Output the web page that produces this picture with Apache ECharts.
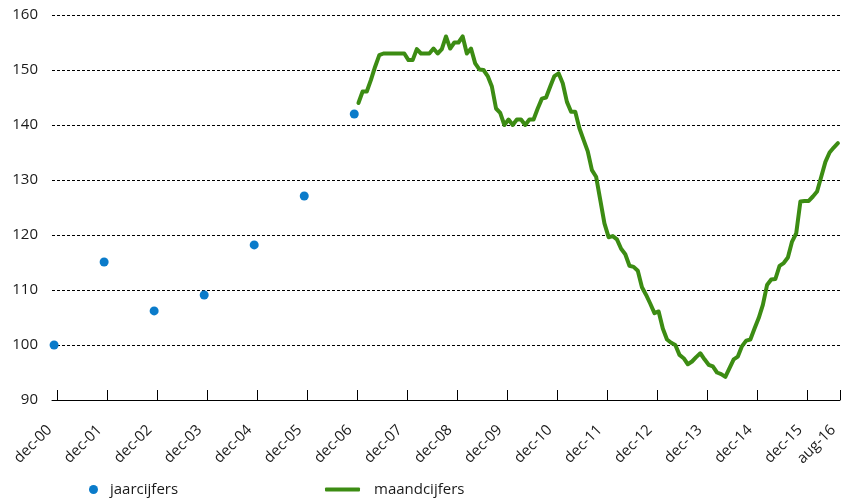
<!DOCTYPE html>
<html>
<head>
<meta charset="utf-8">
<script src="https://cdn.jsdelivr.net/npm/echarts@6/dist/echarts.min.js"></script>
<style>
html,body{margin:0;padding:0;background:#fff;}
#chart{width:842px;height:503px;}
</style>
</head>
<body>
<div id="chart"></div>
<script>
// Month abbreviations (Dutch) used to build the monthly category axis
const monthNames = ['jan','feb','mrt','apr','mei','jun','jul','aug','sep','okt','nov','dec'];
const firstMonth = { year: 2000, month: 11 };  // dec-00
const lastMonth  = { year: 2016, month: 7 };   // aug-16

// Tick labels shown on the x axis
const xTickLabels = ['dec-00','dec-01','dec-02','dec-03','dec-04','dec-05','dec-06','dec-07',
  'dec-08','dec-09','dec-10','dec-11','dec-12','dec-13','dec-14','dec-15','aug-16'];

// Yearly figures (jaarcijfers)
const yearLabels = ['dec-00','dec-01','dec-02','dec-03','dec-04','dec-05','dec-06'];
const yearValues = [100, 115.1, 106.2, 109.1, 118.2, 127.1, 142];

// Monthly figures (maandcijfers), starting jan-07, ending aug-16
const monthStartLabel = 'jan-07';
const monthValues = [
  144.0, 146.1, 146.1, 148.2, 150.6, 152.7, 153.0, 153.0, 153.0, 153.0, 153.0, 153.0, // 2007
  151.8, 151.8, 153.8, 153.0, 153.0, 153.0, 153.9, 153.0, 153.8, 156.1, 153.9, 155.0, // 2008
  155.0, 156.1, 153.0, 153.9, 151.2, 150.1, 150.0, 148.9, 147.0, 143.0, 142.2, 140.0, // 2009
  141.0, 140.0, 141.0, 141.0, 140.0, 141.0, 141.0, 143.0, 144.8, 145.0, 147.0, 148.9, // 2010
  149.4, 147.6, 144.2, 142.4, 142.4, 139.4, 137.3, 135.2, 131.8, 130.6, 126.4, 122.1, // 2011
  119.6, 119.8, 119.2, 117.5, 116.5, 114.4, 114.2, 113.5, 110.5, 109.1, 107.5, 105.8, // 2012
  106.1, 103.0, 101.0, 100.4, 100.0, 98.2, 97.6, 96.5, 97.0, 97.8, 98.5, 97.4,        // 2013
  96.4, 96.1, 95.0, 94.7, 94.2, 95.8, 97.4, 97.9, 99.8, 100.8, 101.0, 103.0,          // 2014
  104.9, 107.3, 110.9, 111.9, 112.0, 114.4, 114.9, 115.9, 118.8, 120.3, 126.1, 126.2, // 2015
  126.2, 127.0, 127.9, 130.6, 133.3, 135.0, 135.9, 136.7                               // 2016
];

// Y axis ticks
const yMin = 90, yMax = 160, yStep = 10;

// Build category labels (one per month)
const categories = [];
{
  let y = firstMonth.year, m = firstMonth.month;
  while (y < lastMonth.year || (y === lastMonth.year && m <= lastMonth.month)) {
    categories.push(monthNames[m] + '-' + String(y % 100).padStart(2, '0'));
    m++; if (m > 11) { m = 0; y++; }
  }
}
const startIdx = categories.indexOf(monthStartLabel);
const lineData = monthValues.map((v, i) => [categories[startIdx + i], v]);
const dotData = yearLabels.map((c, i) => [c, yearValues[i]]);
const nCat = categories.length;

// Positions (in category-index units) for the overlay axis used for ticks and labels
const tickIdx = xTickLabels.map(l => categories.indexOf(l));
const tickBoundaries = tickIdx.slice(0, -1).map(i => i + 0.7).concat([nCat - 0.5]);

const FONT = 'Open Sans';
const TXT = '#1a1a1a';
const chart = echarts.init(document.getElementById('chart'), null, { renderer: 'canvas' });
chart.setOption({
  animation: false,
  backgroundColor: '#fff',
  textStyle: { fontFamily: FONT },
  grid: { left: 52, right: 2, top: 15, bottom: 103, containLabel: false },
  legend: [
    {
      data: [{ name: 'jaarcijfers', icon: 'circle' }],
      left: 89, top: 482, padding: 0,
      itemWidth: 23, itemHeight: 9,
      textStyle: { fontFamily: FONT, fontSize: 15, color: TXT },
      selectedMode: false
    },
    {
      data: [{ name: 'maandcijfers', icon: 'roundRect' }],
      left: 325, top: 482, padding: 0,
      itemWidth: 35, itemHeight: 4,
      itemStyle: { borderWidth: 0 },
      textStyle: { fontFamily: FONT, fontSize: 15, color: TXT, padding: [0, 0, 0, 9] },
      selectedMode: false
    }
  ],
  xAxis: [
    {
      type: 'category',
      data: categories,
      boundaryGap: true,
      axisLine: { show: true, lineStyle: { color: '#000', width: 1 } },
      axisTick: { show: false },
      axisLabel: { show: false },
      splitLine: { show: false }
    },
    {
      type: 'value',
      gridIndex: 0,
      position: 'bottom',
      min: -0.5, max: nCat - 0.5,
      axisLine: { show: false },
      splitLine: { show: false },
      axisTick: {
        show: true, inside: true, length: 10,
        lineStyle: { color: '#000', width: 1 },
        customValues: tickBoundaries
      },
      axisLabel: {
        show: true,
        customValues: tickIdx,
        formatter: function (v) { return categories[Math.round(v)]; },
        rotate: 45,
        margin: 23,
        padding: [0, 6.5, 0, 0],
        hideOverlap: false,
        showMinLabel: true, showMaxLabel: true,
        fontFamily: FONT, fontSize: 15, color: TXT
      }
    }
  ],
  yAxis: {
    type: 'value',
    min: yMin, max: yMax, interval: yStep,
    axisLine: { show: false },
    axisTick: { show: false },
    axisLabel: { margin: 14, fontFamily: FONT, fontSize: 15, color: TXT },
    splitLine: { show: true, lineStyle: { color: '#000', width: 1, type: [3, 2] } }
  },
  series: [
    {
      name: 'jaarcijfers',
      type: 'scatter',
      xAxisIndex: 0,
      data: dotData,
      symbol: 'circle',
      symbolSize: 9,
      itemStyle: { color: '#0a7bca', opacity: 1 },
      z: 3
    },
    {
      name: 'maandcijfers',
      type: 'line',
      xAxisIndex: 0,
      data: lineData,
      showSymbol: false,
      symbol: 'none',
      lineStyle: { color: '#3c8c13', width: 4, join: 'round', cap: 'round' },
      itemStyle: { color: '#3c8c13' },
      z: 2
    }
  ]
});
</script>
</body>
</html>
